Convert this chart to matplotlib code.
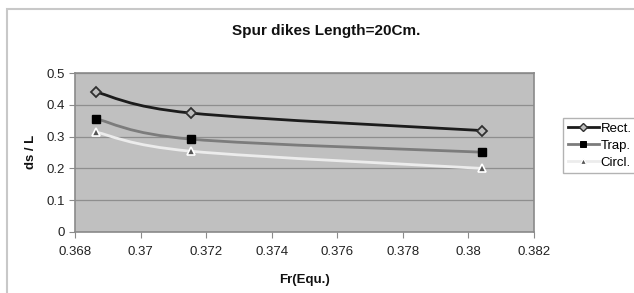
import matplotlib
matplotlib.use("Agg")
import matplotlib.pyplot as plt
import numpy as np
from matplotlib.path import Path
from matplotlib.patches import PathPatch, Rectangle
from matplotlib.lines import Line2D
from matplotlib.ticker import FuncFormatter

plt.rcParams['font.family'] = ['Liberation Sans', 'DejaVu Sans']

# data
fr = [0.36864, 0.37154, 0.38042]
rect = [0.440, 0.374, 0.319]
trap = [0.356, 0.292, 0.251]
circ = [0.314, 0.254, 0.200]
names = ["Rect.", "Trap.", "Circl."]

W, H = 634, 293
fig = plt.figure(figsize=(W / 100, H / 100), dpi=100)
fig.patch.set_facecolor('white')

# chart frame like excel
fig.patches.append(Rectangle((7 / W, -0.2), 1.2, (H - 9) / H + 0.2,
                             transform=fig.transFigure, fill=False,
                             edgecolor='#c8c8c8', lw=1.5))

ax = fig.add_axes([75 / W, (H - 232) / H, (534 - 75) / W, (232 - 73) / H])
ax.set_facecolor('#c0c0c0')


def smooth_path(xs, ys):
    # excel style smoothed line: catmull-rom control points
    pts = np.column_stack([xs, ys])
    n = len(pts)
    verts = [pts[0]]
    codes = [Path.MOVETO]
    for i in range(n - 1):
        p_prev = pts[i - 1] if i > 0 else pts[i]
        p_next = pts[i + 2] if i + 2 < n else pts[i + 1]
        c1 = pts[i] + (pts[i + 1] - p_prev) / 6.0
        c2 = pts[i + 1] - (p_next - pts[i]) / 6.0
        verts += [c1, c2, pts[i + 1]]
        codes += [Path.CURVE4] * 3
    return Path(verts, codes)


styles = [
    dict(color='#1c1c1c', marker='D', mfc='#bdbdbd', mec='#303030', ms=5.5, mew=1.3),
    dict(color='#7c7c7c', marker='s', mfc='black', mec='black', ms=5.5, mew=1),
    dict(color='#ececec', marker='^', mfc='#555555', mec='white', ms=6, mew=1.2),
]

handles = []
for ys, st, nm in zip([rect, trap, circ], styles, names):
    ax.add_patch(PathPatch(smooth_path(fr, ys), facecolor='none',
                           edgecolor=st['color'], lw=2, zorder=3))
    ax.plot(fr, ys, linestyle='none', marker=st['marker'], ms=st['ms'],
            mfc=st['mfc'], mec=st['mec'], mew=st['mew'], zorder=4)
    handles.append(Line2D([], [], color=st['color'], lw=2, marker=st['marker'],
                          ms=st['ms'] - 1, mfc=st['mfc'], mec=st['mec'],
                          mew=st['mew'] - 0.3, label=nm))

ax.set_xlim(0.368, 0.382)
ax.set_ylim(0, 0.5)
ax.set_xticks(np.arange(0.368, 0.3821, 0.002))
ax.set_yticks([0, 0.1, 0.2, 0.3, 0.4, 0.5])
ax.xaxis.set_major_formatter(FuncFormatter(lambda v, p: ('%.3f' % v).rstrip('0')))
ax.yaxis.set_major_formatter(FuncFormatter(lambda v, p: '0' if v == 0 else '%.1f' % v))
ax.yaxis.grid(True, color='#8e8e8e', lw=0.9)
ax.set_axisbelow(True)
for s in ax.spines.values():
    s.set_color('#8a8a8a')
    s.set_linewidth(1.2)
ax.tick_params(axis='both', direction='out', length=4, color='#8a8a8a',
               labelsize=9.5, labelcolor='#222222', pad=3)
ax.tick_params(axis='x', pad=6)

fig.text(326 / W, 1 - 31 / H, "Spur dikes Length=20Cm.", ha='center', va='center',
         fontsize=11, fontweight='bold', color='#111111')
fig.text(304 / W, 1 - 280 / H, "Fr(Equ.)", ha='center', va='center',
         fontsize=9.5, fontweight='bold', color='#111111')
fig.text(31 / W, 1 - 152 / H, "ds / L", ha='center', va='center', rotation=90,
         fontsize=9.5, fontweight='bold', color='#111111')

leg = fig.legend(handles=handles, loc='upper left',
                 bbox_to_anchor=(563 / W, 1 - 118 / H), fontsize=9.5,
                 frameon=True, fancybox=False, handlelength=2.4,
                 handletextpad=0.1, borderpad=0.35, labelspacing=0.35,
                 borderaxespad=0)
leg.get_frame().set_edgecolor('#a0a0a0')
leg.get_frame().set_linewidth(1)

fig.savefig("out.png", dpi=100)
